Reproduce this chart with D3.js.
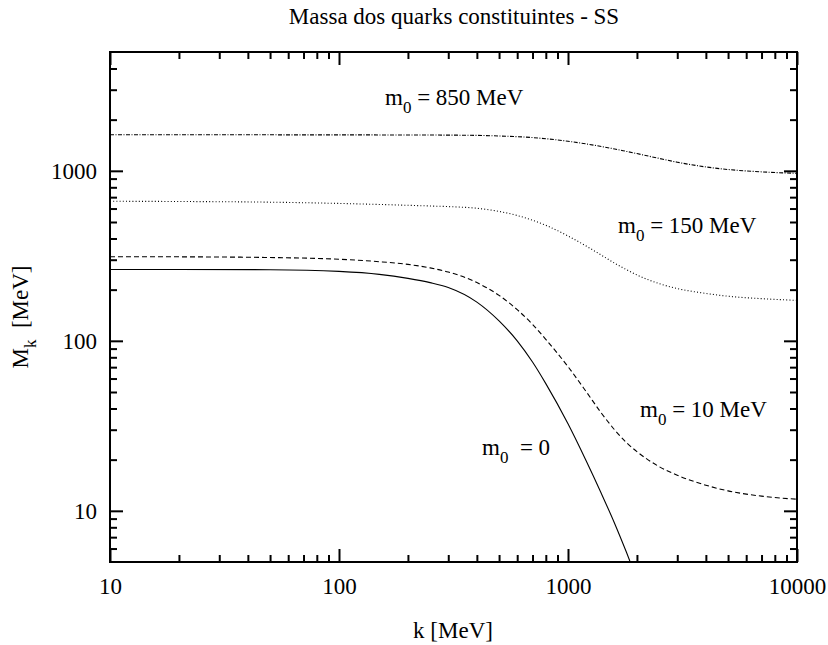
<!DOCTYPE html>
<html>
<head>
<meta charset="utf-8">
<script src="https://cdn.jsdelivr.net/npm/d3@7/dist/d3.min.js"></script>
<style>
  html, body { margin: 0; padding: 0; background: #fff; }
  svg text { white-space: pre; fill: #000; font-family: "Liberation Serif", "Times New Roman", Times, "DejaVu Serif", serif; }
</style>
</head>
<body>
<svg id="chart" width="828" height="645"></svg>
<script>
// Momentum k [MeV] and constituent quark mass M_k [MeV] for each current mass m0
const k850 = [10, 100, 200, 300, 400, 500, 600, 700, 800, 1000, 1200, 1400, 1600, 1800, 2000, 2500, 3000, 4000, 5000, 7000, 10000];
const m850 = [1631, 1627, 1625, 1622, 1616, 1603, 1588, 1569, 1545, 1493, 1440, 1390, 1344, 1301, 1263, 1183, 1124, 1054, 1018, 986, 967];

const k150 = [10, 20, 50, 100, 150, 200, 250, 300, 400, 500, 600, 700, 800, 1000, 1200, 1400, 1600, 1800, 2000, 2500, 3000, 4000, 5000, 7000, 10000];
const m150 = [662, 660, 654, 643, 634, 627, 621, 616, 602, 577, 546, 512, 478, 414, 361, 319, 286, 262, 244, 217, 203, 190, 183, 177, 173];

const k10 = [10, 20, 50, 100, 150, 200, 250, 300, 400, 500, 600, 700, 800, 1000, 1200, 1400, 1600, 1800, 2000, 2500, 3000, 4000, 5000, 7000, 10000];
const m10 = [312.5, 312, 309, 302, 292, 281.5, 268.5, 254, 220, 185, 152.5, 125, 102, 70.5, 50.3, 37.5, 29.9, 25.2, 22.3, 18.2, 16.2, 14.15, 13.1, 12.2, 11.7];

const k0 = [10, 20, 50, 100, 150, 200, 250, 300, 400, 500, 600, 700, 800, 1000, 1200, 1400, 1600, 1800, 2000];
const m0 = [263, 263, 262, 256, 246, 233, 220, 206, 169, 131, 100, 75, 56, 32.5, 19.7, 12.6, 8.4, 5.7, 3.95];

const xMajor = [10, 100, 1000, 10000];
const yMajor = [10, 100, 1000];

const FONT = 23, SUB = 17;
const svg = d3.select("#chart");
const L = 110, R = 797, T = 52, B = 562;

const x = d3.scaleLog().domain([10, 10000]).range([L, R]);
const y = d3.scaleLog().domain([5, 5000]).range([B, T]);

// minor tick positions (2..9 of each decade inside the domain)
function minors(scale) {
  const [a, b] = scale.domain();
  const out = [];
  for (let d = Math.pow(10, Math.floor(Math.log10(a))); d < b; d *= 10) {
    for (let m = 2; m <= 9; m++) {
      const v = m * d;
      if (v > a * 1.0001 && v < b * 0.9999) out.push(v);
    }
  }
  return out;
}
const xMinor = minors(x);
const yMinor = minors(y);

svg.append("defs").append("clipPath").attr("id", "plotclip")
  .append("rect").attr("x", L).attr("y", T).attr("width", R - L).attr("height", B - T);

// axes with inward ticks on all four sides
function drawAxis(axis, transform) {
  const g = svg.append("g").attr("transform", transform).call(axis);
  g.attr("font-family", null).attr("font-size", null);
  g.select(".domain").remove();
  g.selectAll(".tick line").attr("stroke", "#000").attr("stroke-width", 2);
  return g;
}

drawAxis(d3.axisBottom(x).tickValues(xMajor).tickSize(-13).tickFormat(d3.format("d")), `translate(0,${B})`)
  .selectAll("text").attr("font-size", FONT).attr("dy", null).attr("y", 32);
drawAxis(d3.axisBottom(x).tickValues(xMinor).tickSize(-7).tickFormat(""), `translate(0,${B})`);
drawAxis(d3.axisTop(x).tickValues(xMajor).tickSize(-13).tickFormat(""), `translate(0,${T})`);
drawAxis(d3.axisTop(x).tickValues(xMinor).tickSize(-7).tickFormat(""), `translate(0,${T})`);
drawAxis(d3.axisLeft(y).tickValues(yMajor).tickSize(-13).tickFormat(d3.format("d")), `translate(${L},0)`)
  .selectAll("text").attr("font-size", FONT).attr("x", -13).attr("dy", "0.32em");
drawAxis(d3.axisLeft(y).tickValues(yMinor).tickSize(-7).tickFormat(""), `translate(${L},0)`);
drawAxis(d3.axisRight(y).tickValues(yMajor).tickSize(-13).tickFormat(""), `translate(${R},0)`);
drawAxis(d3.axisRight(y).tickValues(yMinor).tickSize(-7).tickFormat(""), `translate(${R},0)`);

// frame
svg.append("rect").attr("x", L).attr("y", T).attr("width", R - L).attr("height", B - T)
  .attr("fill", "none").attr("stroke", "#000").attr("stroke-width", 2);

// curves
const line = d3.line().x(d => x(d[0])).y(d => y(d[1])).curve(d3.curveMonotoneX);
const curves = [
  { k: k850, m: m850, dash: "4,1.5,1,1.5" },
  { k: k150, m: m150, dash: "1,2.2" },
  { k: k10, m: m10, dash: "5,3" },
  { k: k0, m: m0, dash: null }
];
const cg = svg.append("g").attr("clip-path", "url(#plotclip)");
curves.forEach(c => {
  cg.append("path")
    .attr("d", line(c.k.map((v, i) => [v, c.m[i]])))
    .attr("fill", "none").attr("stroke", "#000").attr("stroke-width", 1.1)
    .attr("stroke-dasharray", c.dash);
});

// curve annotations: m with subscript 0
const notes = [
  { x: 385, y: 105, rest: " = 850 MeV" },
  { x: 618, y: 233, rest: " = 150 MeV" },
  { x: 640, y: 417, rest: " = 10 MeV" },
  { x: 482, y: 455, rest: "  = 0" }
];
notes.forEach(n => {
  const t = svg.append("text").attr("x", n.x).attr("y", n.y).attr("font-size", FONT);
  t.append("tspan").text("m");
  t.append("tspan").attr("font-size", SUB).attr("dy", 8).text("0");
  t.append("tspan").attr("dy", -8).text(n.rest);
});

// title
svg.append("text").attr("x", 454).attr("y", 24).attr("text-anchor", "middle")
  .attr("font-size", FONT).text("Massa dos quarks constituintes - SS");

// axis titles
svg.append("text").attr("x", 453).attr("y", 638).attr("text-anchor", "middle")
  .attr("font-size", FONT).text("k [MeV]");

const yl = svg.append("text").attr("transform", "translate(28,317) rotate(-90)")
  .attr("text-anchor", "middle").attr("font-size", FONT);
yl.append("tspan").text("M");
yl.append("tspan").attr("font-size", SUB).attr("dy", 8).text("k");
yl.append("tspan").attr("dy", -8).text("  [MeV]");
</script>
</body>
</html>
